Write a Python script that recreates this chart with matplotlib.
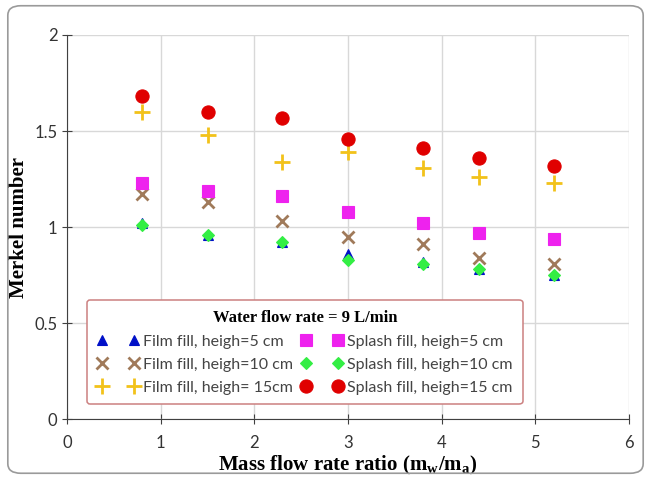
import matplotlib.pyplot as plt
from matplotlib.patches import FancyBboxPatch

plt.rcParams['mathtext.fontset'] = 'custom'
plt.rcParams['mathtext.rm'] = 'Liberation Serif:bold'

# Mass flow rate ratio (mw/ma) at each test point
ratio = [0.8, 1.5, 2.3, 3.0, 3.8, 4.4, 5.2]

# Merkel number for each fill type and height
film_5 = [1.02, 0.96, 0.92, 0.86, 0.82, 0.78, 0.75]
film_10 = [1.17, 1.13, 1.03, 0.95, 0.91, 0.84, 0.81]
film_15 = [1.60, 1.48, 1.34, 1.39, 1.31, 1.26, 1.23]
splash_5 = [1.23, 1.19, 1.16, 1.08, 1.02, 0.97, 0.94]
splash_10 = [1.01, 0.96, 0.92, 0.83, 0.81, 0.78, 0.75]
splash_15 = [1.68, 1.60, 1.57, 1.46, 1.41, 1.36, 1.32]

fig = plt.figure(figsize=(6.51, 4.79), dpi=100)
ax = fig.add_axes([0.103, 0.125, 0.863, 0.802])

# rounded frame around the whole chart
fig.patches.append(FancyBboxPatch((0.012, 0.012), 0.976, 0.976,
                                  boxstyle='round,pad=0,rounding_size=0.02',
                                  transform=fig.transFigure, fill=False,
                                  edgecolor='#9a9a9a', linewidth=1.2))

series = [
    (film_5, '^', '#0010c8', 7, 'Film fill, heigh=5 cm', 2),
    (film_10, 'x', '#a07a5a', 9, 'Film fill, heigh=10 cm', 3),
    (film_15, '+', '#f2c21a', 11, 'Film fill, heigh= 15cm', 4),
    (splash_5, 's', '#ee22ee', 9, 'Splash fill, heigh=5 cm', 5),
    (splash_10, 'D', '#33ee44', 6.5, 'Splash fill, heigh=10 cm', 6),
    (splash_15, 'o', '#e00000', 9.5, 'Splash fill, heigh=15 cm', 7),
]

for vals, mk, col, ms, lab, z in series:
    ax.plot(ratio, vals, linestyle='none', marker=mk, color=col, markersize=ms,
            markeredgewidth=2 if mk in ('x', '+') else 0.8, label=lab, zorder=z)

ax.set_xlim(0, 6)
ax.set_ylim(0, 2)
ax.set_xticks(range(0, 7))
ax.set_yticks([0, 0.5, 1, 1.5, 2])
ax.set_yticklabels(['0', '0.5', '1', '1.5', '2'])
ax.grid(True, color='#d8d8d8', linewidth=1)
ax.set_axisbelow(True)
for s in ('top', 'right'):
    ax.spines[s].set_visible(False)
for s in ('left', 'bottom'):
    ax.spines[s].set_color('#404040')
ax.tick_params(direction='inout', length=7, color='#404040', labelsize=12,
               labelcolor='#333333')
ax.tick_params(axis='x', pad=8)
for t in ax.get_xticklabels() + ax.get_yticklabels():
    t.set_fontfamily('Lato')

ax.set_xlabel('Mass flow rate ratio (m$_\\mathrm{w}$/m$_\\mathrm{a}$)',
              fontfamily='Liberation Serif', fontweight='bold', fontsize=15,
              labelpad=2)
ax.set_ylabel('Merkel number', fontfamily='Liberation Serif',
              fontweight='bold', fontsize=15, labelpad=4)

leg = ax.legend(ncol=2, numpoints=2, loc='upper left',
                bbox_to_anchor=(0.036, 0.31),
                title='Water flow rate = 9 L/min',
                title_fontproperties={'family': 'Liberation Serif',
                                      'weight': 'bold', 'size': 12},
                prop={'family': 'Lato', 'size': 11.5}, fancybox=True,
                framealpha=1, edgecolor='#cc8080', handlelength=2.6,
                handletextpad=0.3, columnspacing=0.5, labelspacing=0.55,
                borderpad=0.6, borderaxespad=0)
leg.get_frame().set_linewidth(1.1)
leg.set_zorder(10)
for t in leg.get_texts():
    t.set_color('#444444')

fig.savefig('out.png', dpi=100)
